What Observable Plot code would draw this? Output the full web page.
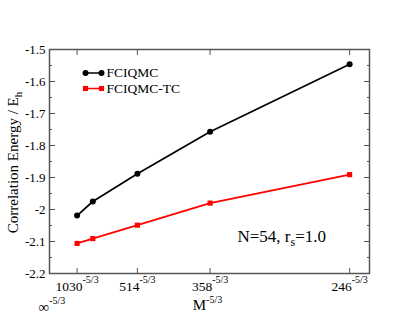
<!DOCTYPE html>
<html><head><meta charset="utf-8">
<script src="https://cdn.jsdelivr.net/npm/d3@7"></script>
<script src="https://cdn.jsdelivr.net/npm/@observablehq/plot@0.6"></script>
<style>body{margin:0;background:#fff}</style>
</head><body><div id="chart"></div>
<script>
// ---- data ----
const M = [1030, 786, 514, 358, 246];
const fciqmc = [-2.019, -1.975, -1.888, -1.757, -1.546];
const fciqmcTC = [-2.106, -2.091, -2.049, -1.980, -1.891];
const seriesNames = ["FCIQMC", "FCIQMC-TC"];
const seriesColors = ["#000000", "#ff0000"];
const seriesSymbols = ["circle", "square"];
const xTickM = [1030, 514, 358, 246];
const xTickLabels = ["1030", "514", "358", "246"];
const exponentLabel = "-5/3";
const infLabelM = [Infinity];
const infLabel = "\u221E";
const yTicks = [-1.5, -1.6, -1.7, -1.8, -1.9, -2.0, -2.1, -2.2];
const yTickLabels = ["-1.5", "-1.6", "-1.7", "-1.8", "-1.9", "-2", "-2.1", "-2.2"];
const yMinorTicks = [-1.55, -1.65, -1.75, -1.85, -1.95, -2.05, -2.15];
const xTitle = "M";
const yTitle = "Correlation Energy / E";
const yTitleSub = "h";
const noteA = "N=54, r";
const noteSub = "s";
const noteB = "=1.0";

const expo = -5 / 3;
const toX = m => Math.pow(m, expo);
const rows = [fciqmc, fciqmcTC].map((vals, s) => M.map((m, i) => ({series: seriesNames[s], x: toX(m), y: vals[i]})));
const xTicks = xTickM.map(toX);
const xLabelMap = new Map(xTicks.map((v, i) => [v, xTickLabels[i]]));
const yLabelMap = new Map(yTicks.map((v, i) => [v, yTickLabels[i]]));

const axisColor = "#555";
const hline = {draw(context, l) { context.moveTo(0, 0); context.lineTo(0, -l); }};

const seriesMarks = rows.flatMap((data, s) => [
  Plot.line(data, {x: "x", y: "y", stroke: seriesColors[s], strokeWidth: 1.7}),
  Plot.dot(data, {x: "x", y: "y", fill: seriesColors[s], symbol: seriesSymbols[s], r: s === 0 ? 3 : 2.9})
]);

const legendMarks = seriesNames.flatMap((name, s) => {
  const dy = 23.5 + s * 15.5;
  const r = s === 0 ? 3 : 2.9;
  return [
    Plot.vector([name], {frameAnchor: "top-left", dx: 36, dy, length: 16, rotate: 90, anchor: "start", shape: hline, stroke: seriesColors[s], strokeWidth: 1.7}),
    Plot.dot([name], {frameAnchor: "top-left", dx: 36, dy, symbol: seriesSymbols[s], r, fill: seriesColors[s]}),
    Plot.dot([name], {frameAnchor: "top-left", dx: 52, dy, symbol: seriesSymbols[s], r, fill: seriesColors[s]}),
    Plot.text([name], {frameAnchor: "top-left", dx: 57, dy, text: d => d, textAnchor: "start", lineAnchor: "middle", fontSize: 13.5, fill: "#000"})
  ];
});

const svg = Plot.plot({
  width: 415,
  height: 321,
  marginLeft: 49,
  marginRight: 46,
  marginTop: 49,
  marginBottom: 48,
  style: {fontFamily: "'Liberation Serif', 'DejaVu Serif', serif", fontSize: "13px", background: "#fff", color: "#000"},
  x: {domain: [0, 1.104e-4]},
  y: {domain: [-2.2, -1.5]},
  marks: [
    Plot.frame({stroke: axisColor, strokeWidth: 1.5}),
    Plot.axisX({ticks: xTicks, tickSize: -5, fill: "none", label: null, stroke: axisColor}),
    Plot.axisX({anchor: "top", ticks: xTicks, tickSize: -5, fill: "none", label: null, stroke: axisColor}),
    Plot.axisX({ticks: xTicks, tickSize: 0, tickPadding: 8, tickFormat: d => xLabelMap.get(d), label: null, fontSize: 13.5, fill: "#000"}),
    Plot.axisY({ticks: yTicks, tickSize: -6, fill: "none", label: null, stroke: axisColor}),
    Plot.axisY({ticks: yMinorTicks, tickSize: -3, fill: "none", label: null, stroke: axisColor}),
    Plot.axisY({anchor: "right", ticks: yTicks, tickSize: -6, fill: "none", label: null, stroke: axisColor}),
    Plot.axisY({anchor: "right", ticks: yMinorTicks, tickSize: -3, fill: "none", label: null, stroke: axisColor}),
    Plot.axisY({ticks: yTicks, tickSize: 0, tickPadding: 4, tickFormat: d => yLabelMap.get(d), label: null, fontSize: 13, fill: "#000"}),
    ...seriesMarks,
    ...legendMarks,
    Plot.text(infLabelM, {x: d => toX(d), frameAnchor: "bottom", text: () => infLabel, dx: -11, dy: 38, textAnchor: "start", lineAnchor: "bottom", fontSize: 15, fill: "#000", ariaLabel: () => "inf-label"}),
    Plot.text([xTitle], {frameAnchor: "bottom", text: d => d, dx: -2, dy: 36, textAnchor: "middle", lineAnchor: "bottom", fontSize: 15, fill: "#000", ariaLabel: () => "x-title"}),
    Plot.text([yTitle], {frameAnchor: "left", text: d => d, rotate: -90, dx: -31.5, dy: 1, textAnchor: "middle", lineAnchor: "bottom", fontSize: 15, fill: "#000", ariaLabel: () => "y-title"}),
    Plot.text([noteA], {frameAnchor: "bottom-left", text: d => d, dx: 188, dy: -32, textAnchor: "start", lineAnchor: "bottom", fontSize: 17, fill: "#000", ariaLabel: () => "note"})
  ]
});

const sel = d3.select(svg);
const sup = (s, size, dy) => function () {
  d3.select(this).append("tspan").attr("dy", dy).attr("font-size", size).text(s);
};
sel.selectAll('g[aria-label="x-axis tick label"] text').each(sup(exponentLabel, "10px", -8));
sel.selectAll('text[aria-label="inf-label"]').each(sup(exponentLabel, "10px", -8));
sel.selectAll('text[aria-label="x-title"]').each(sup(exponentLabel, "10px", -7));
sel.selectAll('text[aria-label="y-title"]').each(sup(yTitleSub, "11px", 4));
sel.selectAll('text[aria-label="note"]').each(function () {
  const t = d3.select(this);
  t.append("tspan").attr("dy", 4).attr("font-size", "12px").text(noteSub);
  t.append("tspan").attr("dy", -4).attr("font-size", "17px").text(noteB);
});
document.getElementById("chart").appendChild(svg);
</script>
</body></html>
